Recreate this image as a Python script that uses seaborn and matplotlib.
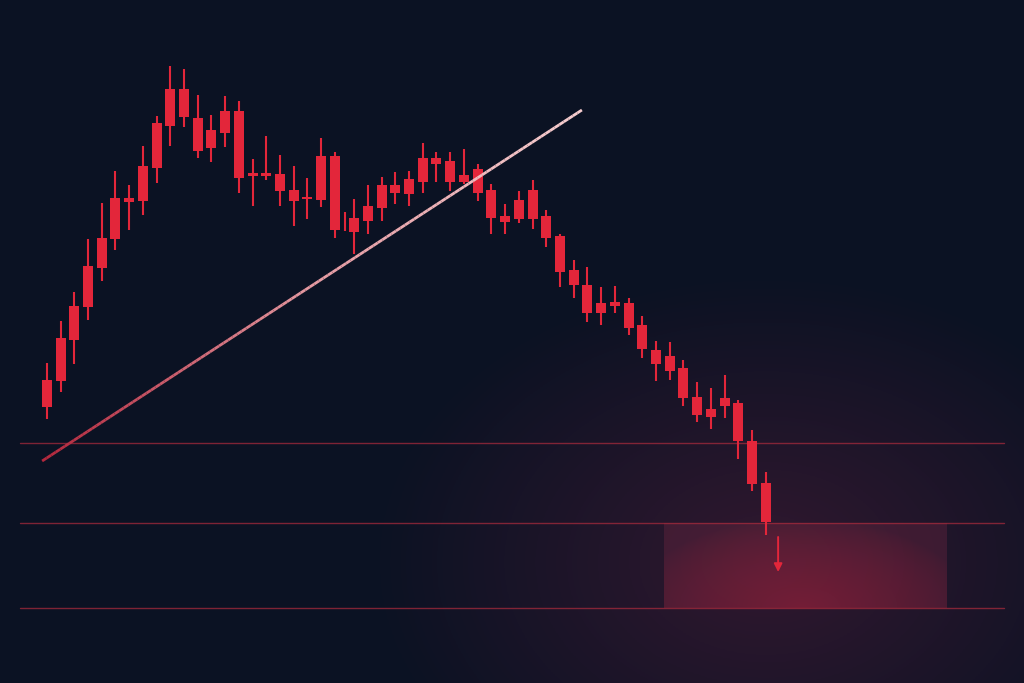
import matplotlib
matplotlib.use("Agg")
import matplotlib.pyplot as plt
import numpy as np
import seaborn as sns
from matplotlib.collections import LineCollection
from matplotlib.colors import LinearSegmentedColormap

# time index of each candle (one gap is irregular, around the thin doji)
t = list(range(22)) + [21.7] + [22.4 + k for k in range(31)]
open_ = [60.7, 69.1, 75.5, 83.4, 89.1, 96.9, 97.1, 103.5, 112.1, 118.8,
         118.8, 113.1, 110.6, 114.4, 114.4, 101.9, 101.9, 101.8, 98.7, 97.3,
         105.4, 105.4, 92.4, 92.9, 95.5, 99.6, 99.6, 100.8, 105.0, 105.0,
         104.5, 101.6, 102.7, 98.6, 93.4, 96.6, 98.6, 93.4, 89.4, 82.6,
         79.6, 76.1, 76.3, 76.1, 71.6, 66.7, 65.4, 63.1, 57.3, 54.9,
         57.1, 56.1, 48.5, 40.1]
close = [55.3, 60.4, 68.7, 75.3, 83.1, 88.8, 96.3, 96.4, 103.1, 111.5,
         113.3, 106.5, 107.0, 110.1, 101.1, 101.5, 101.5, 98.5, 96.4, 96.9,
         96.7, 90.6, 92.4, 90.3, 92.5, 95.1, 98.1, 97.8, 100.3, 103.9,
         100.3, 100.3, 98.1, 93.1, 92.3, 92.9, 92.9, 89.1, 82.3, 79.6,
         74.1, 74.1, 75.5, 71.1, 66.9, 63.8, 62.5, 57.1, 53.6, 53.3,
         55.5, 48.5, 39.9, 32.3]
high = [64.0, 72.4, 78.3, 88.9, 96.1, 102.5, 99.6, 107.4, 113.4, 123.5,
        122.9, 117.7, 113.6, 117.5, 116.5, 104.8, 109.4, 105.6, 103.5, 101.1,
        109.1, 106.2, 94.3, 96.9, 99.6, 101.3, 102.3, 102.5, 108.1, 106.3,
        106.3, 106.8, 103.9, 99.9, 95.8, 98.5, 100.7, 94.7, 89.9, 84.6,
        83.3, 79.3, 79.4, 77.1, 73.4, 68.5, 68.3, 64.7, 60.3, 59.1,
        61.6, 56.7, 50.7, 42.3]
low = [52.8, 58.2, 63.8, 72.7, 80.4, 86.6, 90.6, 93.6, 100.1, 107.5,
       111.3, 105.1, 104.2, 107.3, 98.1, 95.5, 100.6, 95.5, 91.4, 92.9,
       95.3, 89.1, 90.5, 85.8, 89.8, 92.5, 95.8, 95.5, 98.1, 100.3,
       98.4, 99.9, 96.5, 89.8, 89.9, 92.1, 90.9, 87.3, 79.3, 77.1,
       72.3, 71.7, 74.1, 69.6, 65.1, 60.4, 60.7, 55.4, 52.3, 50.9,
       53.1, 44.9, 38.5, 29.6]

levels = [48.0, 32.0, 15.0]
trend_t = [-0.34, 39.0]
trend_p = [44.4, 114.6]
target_zone = (45.0, 65.6, 15.0, 32.0)   # t0, t1, low, high
arrow_t = 53.3
arrow_p = (29.2, 22.2)

BG = "#0b1223"
RED = "#e3263a"

sns.set_theme(style="dark", rc={"axes.facecolor": BG, "figure.facecolor": BG})

fig = plt.figure(figsize=(10.24, 6.83), dpi=100)
ax = fig.add_axes([0, 0, 1, 1])
x0, x1 = -3.41, 71.22
y0, y1 = 0.0, 136.6
ax.set_xlim(x0, x1)
ax.set_ylim(y0, y1)
ax.axis("off")

# broad background glow around the target
gx = np.linspace(x0, x1, 400)
gy = np.linspace(y0, y1, 300)
GX, GY = np.meshgrid(gx, gy)
r = np.sqrt(((GX - 52.5) / 29.0) ** 2 + ((GY - 24.0) / 58.0) ** 2)
glow = np.zeros(GX.shape + (4,))
glow[..., 0], glow[..., 1], glow[..., 2] = 0.55, 0.15, 0.30
glow[..., 3] = 0.30 * np.clip(1 - r, 0, 1) ** 1.0
ax.imshow(glow, extent=[x0, x1, y0, y1], origin="lower", aspect="auto", zorder=0)

# target zone with inner glow
zt0, zt1, zl, zh = target_zone
ax.axhspan(zl, zh, xmin=(zt0 - x0) / (x1 - x0), xmax=(zt1 - x0) / (x1 - x0),
           color="#7a2a45", alpha=0.33, lw=0, zorder=1)
zx = np.linspace(zt0, zt1, 200)
zy = np.linspace(zl, zh, 100)
ZX, ZY = np.meshgrid(zx, zy)
zr = np.sqrt(((ZX - 55.0) / 12.5) ** 2 + ((ZY - zl) / 18.0) ** 2)
zg = np.zeros(ZX.shape + (4,))
zg[..., 0], zg[..., 1], zg[..., 2] = 0.58, 0.12, 0.22
zg[..., 3] = 0.6 * np.clip(1 - zr, 0, 1) ** 0.7
ax.imshow(zg, extent=[zt0, zt1, zl, zh], origin="lower", aspect="auto", zorder=1)

# horizontal levels
for lv in levels:
    ax.axhline(lv, xmin=0.02, xmax=0.98, color="#a52a3c", lw=1.0, alpha=0.75, zorder=2)

# candles
body_w = 0.73
ax.vlines(t, low, high, color=RED, lw=1.5, zorder=3)
bottoms = np.minimum(open_, close)
heights = np.abs(np.array(open_) - np.array(close))
ax.bar(t, heights, bottom=bottoms, width=body_w, color=RED, lw=0, zorder=4)

# trendline with colour gradient
n = 120
lx = np.linspace(trend_t[0], trend_t[1], n)
ly = np.linspace(trend_p[0], trend_p[1], n)
pts = np.column_stack([lx, ly]).reshape(-1, 1, 2)
segs = np.concatenate([pts[:-1], pts[1:]], axis=1)
cmap = LinearSegmentedColormap.from_list("tl", ["#b3283d", "#e59aa2", "#f6cdcf"])
lc = LineCollection(segs, cmap=cmap, lw=2.0, zorder=5)
lc.set_array(np.linspace(0, 1, n - 1))
ax.add_collection(lc)

# arrow into the zone
ax.annotate("", xy=(arrow_t, arrow_p[1]), xytext=(arrow_t, arrow_p[0]),
            arrowprops=dict(arrowstyle="-|>", color=RED, lw=1.4,
                            mutation_scale=12, shrinkA=0, shrinkB=0), zorder=6)

fig.savefig("out.png", dpi=100, facecolor=BG)
